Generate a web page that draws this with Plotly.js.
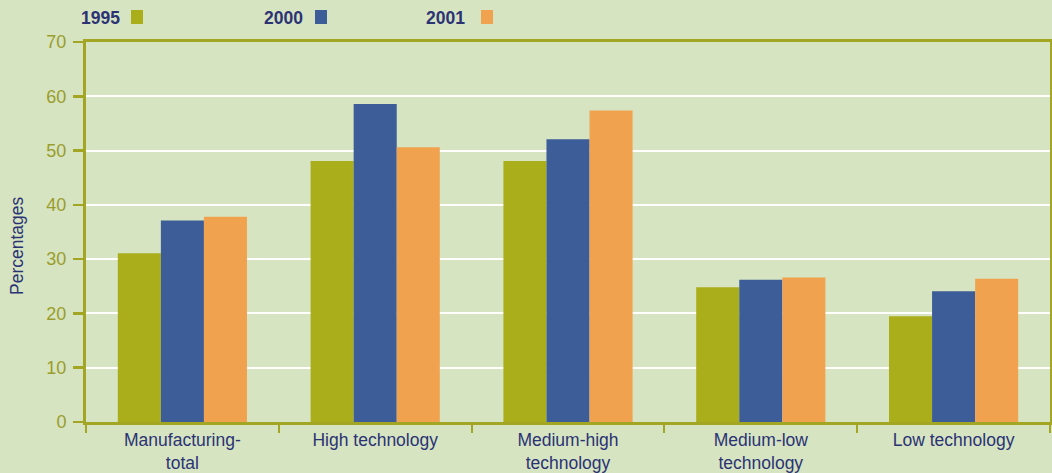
<!DOCTYPE html>
<html>
<head>
<meta charset="utf-8">
<script src="https://cdn.plot.ly/plotly-3.0.1.min.js"></script>
<style>html,body{margin:0;padding:0;background:#d6e4c1;}#chart{width:1052px;height:473px;}</style>
</head>
<body>
<div id="chart"></div>
<script>
const categories = ["Manufacturing-<br>total", "High technology", "Medium-high<br>technology", "Medium-low<br>technology", "Low technology"];
const seriesNames = ["1995", "2000", "2001"];
const values1995 = [31.1, 48.1, 48.1, 24.8, 19.5];
const values2000 = [37.1, 58.6, 52.1, 26.2, 24.1];
const values2001 = [37.8, 50.6, 57.4, 26.6, 26.4];
const yTicks = [0, 10, 20, 30, 40, 50, 60, 70];
const yTitle = "Percentages";

const colors = ["#abae1b", "#3c5d97", "#f1a24e"];
const allValues = [values1995, values2000, values2001];
const FONT = "Liberation Sans, Arial, sans-serif";

const traces = allValues.map((v, i) => ({
  type: "bar",
  name: seriesNames[i],
  x: categories,
  y: v,
  marker: {color: colors[i], line: {width: 0}},
  showlegend: false,
  hoverinfo: "x+y"
}));

const layout = {
  width: 1052, height: 473,
  paper_bgcolor: "#d6e4c1",
  plot_bgcolor: "#d6e4c1",
  margin: {l: 86, r: 2, t: 42, b: 51},
  bargap: 0.33,
  barmode: "group",
  font: {family: FONT},
  xaxis: {
    type: "category",
    showline: true, linecolor: "#a3a622", linewidth: 3, mirror: true,
    ticks: "outside", tickson: "boundaries", ticklen: 8, tickwidth: 2, tickcolor: "#a3a622",
    tickfont: {family: FONT, size: 17.5, color: "#2b3375"},
    showgrid: false, zeroline: false,
    fixedrange: true
  },
  yaxis: {
    range: [0, 70],
    tickvals: yTicks,
    ticktext: yTicks.map(String),
    showline: true, linecolor: "#a3a622", linewidth: 3, mirror: true,
    ticks: "outside", ticklen: 10, tickwidth: 2.5, tickcolor: "#a3a622",
    ticklabelstandoff: 3,
    tickfont: {family: FONT, size: 18, color: "#9a9d2c"},
    showgrid: true, gridcolor: "#ffffff", gridwidth: 2,
    zeroline: false,
    fixedrange: true
  },
  annotations: [],
  shapes: []
};

const plotW = 1052 - 86 - 2, plotH = 473 - 42 - 51;
function px2paperX(px) { return (px - 86) / plotW; }
function px2paperY(py) { return (473 - 51 - py) / plotH; }

// y-axis title (placed as annotation to match the reference's vertical offset)
layout.annotations.push({
  xref: "paper", yref: "paper",
  x: px2paperX(17), y: px2paperY(246),
  xanchor: "center", yanchor: "middle",
  text: yTitle, textangle: -90, showarrow: false,
  font: {family: FONT, size: 17.5, color: "#2b3375"}
});

// legend items (text followed by a colored square)
const legendTextX = [79, 262, 424];
const legendBoxX = [131, 315, 481];
seriesNames.forEach((n, i) => {
  layout.annotations.push({
    xref: "paper", yref: "paper",
    x: px2paperX(legendTextX[i]), y: px2paperY(18),
    xanchor: "left", yanchor: "middle",
    text: "<b>" + n + "</b>", showarrow: false,
    font: {family: FONT, size: 17.5, color: "#2b3375"}
  });
  layout.shapes.push({
    type: "rect", xref: "paper", yref: "paper",
    x0: px2paperX(legendBoxX[i]), x1: px2paperX(legendBoxX[i] + 12),
    y0: px2paperY(24), y1: px2paperY(10),
    fillcolor: colors[i], line: {width: 0}
  });
});

Plotly.newPlot("chart", traces, layout, {displayModeBar: false, staticPlot: true});
</script>
</body>
</html>
